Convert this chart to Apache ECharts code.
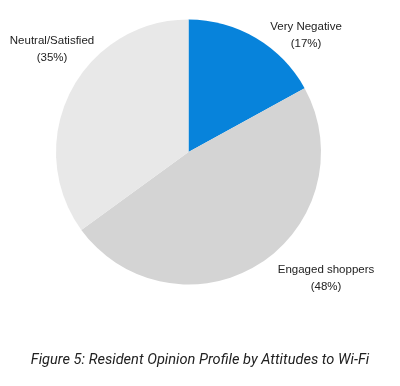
<!DOCTYPE html>
<html>
<head>
<meta charset="utf-8">
<script src="https://cdn.jsdelivr.net/npm/echarts@6/dist/echarts.min.js"></script>
<style>
html,body{margin:0;padding:0;background:#fff;}
#chart{width:400px;height:386px;}
</style>
</head>
<body>
<div id="chart"></div>
<script>
const categories = ['Very Negative', 'Engaged shoppers', 'Neutral/Satisfied'];
const values = [17, 48, 35];
const colors = ['#0783db', '#d4d4d4', '#e8e8e8'];
const caption = 'Figure 5: Resident Opinion Profile by Attitudes to Wi-Fi';

// label anchor positions (pixels), separate from data
const labelPos = [[306, 35], [326, 278], [52, 49]];

const chart = echarts.init(document.getElementById('chart'), null, {renderer: 'canvas'});
chart.setOption({
  animation: false,
  backgroundColor: '#ffffff',
  title: {
    text: caption,
    left: 'center',
    top: 348,
    textStyle: {fontFamily: 'Roboto', fontStyle: 'italic', fontWeight: 'normal', fontSize: 14.6, color: '#222'}
  },
  series: [{
    type: 'pie',
    center: [188.5, 152],
    radius: [0, 132.5],
    startAngle: 90,
    clockwise: true,
    data: categories.map((c, i) => ({name: c, value: values[i], itemStyle: {color: colors[i]}})),
    label: {
      show: true,
      position: 'outside',
      alignTo: 'none',
      overflow: 'none',
      width: 200,
      formatter: p => p.name + '\n(' + p.value + '%)',
      fontFamily: 'Liberation Sans',
      fontSize: 11.5,
      lineHeight: 17,
      color: '#222',
      align: 'center'
    },
    labelLine: {show: false},
    labelLayout: function (params) {
      const pos = labelPos[params.dataIndex];
      return {x: pos[0], y: pos[1], align: 'center', verticalAlign: 'middle'};
    },
    emphasis: {disabled: true}
  }]
});
</script>
</body>
</html>
